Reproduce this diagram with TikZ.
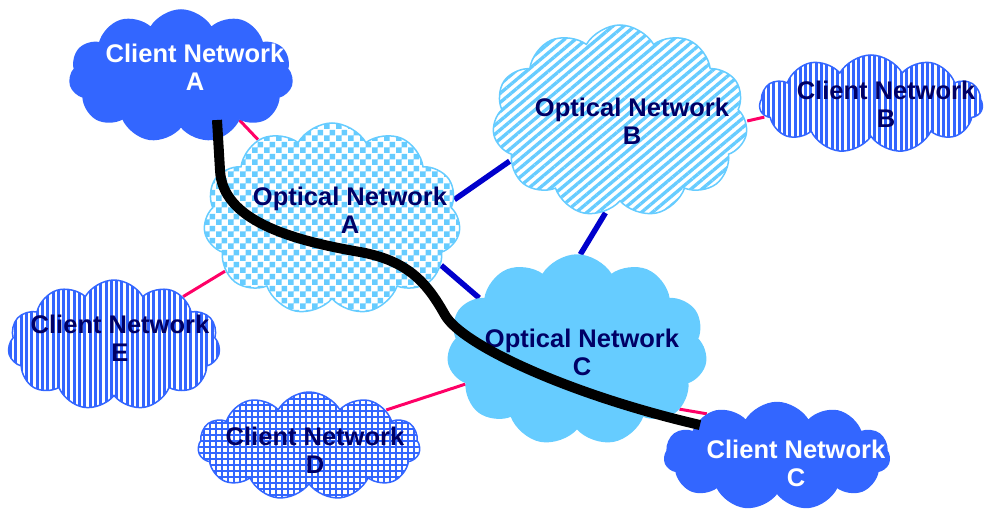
\documentclass[tikz,border=0pt]{standalone}
\usepackage{fontspec}
\setmainfont{Liberation Sans}
\usetikzlibrary{shapes.symbols,patterns,patterns.meta,calc}
\definecolor{cblue}{HTML}{3366FF}
\definecolor{lblue}{HTML}{66CCFF}
\definecolor{navy}{HTML}{000066}
\definecolor{linkpink}{HTML}{FF0066}
\definecolor{dblue}{HTML}{0000CC}
\pgfdeclarelayer{background}
\pgfsetlayers{background,main}
\pgfdeclarepatternformonly{bigcheck}{\pgfqpoint{0pt}{0pt}}{\pgfqpoint{12pt}{12pt}}{\pgfqpoint{12pt}{12pt}}{%
  \pgfpathrectangle{\pgfqpoint{0pt}{0pt}}{\pgfqpoint{6pt}{6pt}}%
  \pgfpathrectangle{\pgfqpoint{6pt}{6pt}}{\pgfqpoint{6pt}{6pt}}%
  \pgfusepath{fill}}
\begin{document}
\begin{tikzpicture}[x=1pt,y=-1pt,
  netcloud/.style={cloud, cloud puffs=11, cloud puff arc=120, cloud ignores aspect, inner sep=0pt, line width=1.5pt},
  solidclient/.style={netcloud, draw=cblue, fill=cblue},
  solidoptical/.style={netcloud, draw=lblue, fill=lblue},
  stripeclient/.style={netcloud, draw=cblue, preaction={fill=white}, pattern={Lines[angle=90,distance=5.3pt,line width=3pt]}, pattern color=cblue},
  gridclient/.style={netcloud, draw=cblue, preaction={fill=white}, pattern={Hatch[angle=0,distance=6pt,line width=1.8pt]}, pattern color=cblue},
  diagoptical/.style={netcloud, draw=lblue, preaction={fill=white}, pattern={Lines[angle=40,distance=7pt,line width=3.3pt]}, pattern color=lblue},
  checkoptical/.style={netcloud, draw=lblue, preaction={fill=white}, pattern=bigcheck, pattern color=lblue},
  lbl/.style={font=\bfseries\fontsize{25.5}{28}\selectfont, align=center, inner sep=0pt, text=navy},
  whitelbl/.style={lbl, text=white},
  clientlink/.style={draw=linkpink, line width=3pt},
  opticallink/.style={draw=dblue, line width=5.5pt},
  lightpath/.style={draw=black, line width=10pt, line cap=butt}
]
\useasboundingbox (0,0) rectangle (984,513);

% clouds
\node[solidclient, minimum width=223pt, minimum height=132pt] (cA) at (181,76) {};
\node[diagoptical, minimum width=255pt, minimum height=192pt] (oB) at (620,121) {};
\node[stripeclient, minimum width=223pt, minimum height=98pt] (cB) at (871,104) {};
\node[checkoptical, minimum width=257pt, minimum height=192pt] (oA) at (332,219) {};
\node[stripeclient, minimum width=212pt, minimum height=130pt] (cE) at (114,345) {};
\node[solidoptical, minimum width=259pt, minimum height=190pt] (oC) at (577,350) {};
\node[gridclient, minimum width=222pt, minimum height=108pt] (cD) at (309,446) {};
\node[solidclient, minimum width=225pt, minimum height=107pt] (cC) at (777,456) {};

% labels
\node[whitelbl] (cAt) at (195,67) {Client Network\\A};
\node[lbl] (oBt) at (632,121) {Optical Network\\B};
\node[lbl] (cBt) at (886,104) {Client Network\\B};
\node[lbl] (oAt) at (350,210) {Optical Network\\A};
\node[lbl] (cEt) at (120,338) {Client Network\\E};
\node[lbl] (oCt) at (582,352) {Optical Network\\C};
\node[lbl] (cDt) at (315,450) {Client Network\\D};
\node[whitelbl] (cCt) at (796,463) {Client Network\\C};

% links behind the clouds
\begin{pgfonlayer}{background}
\draw[clientlink] (cA.-37) -- (oA.133);
\draw[clientlink] (cB.187) -- (oB.0);
\draw[clientlink] (cE.35) -- (oA.206);
\draw[clientlink] (cD.25) -- (oC.197);
\draw[clientlink] (oC.-30) -- (cC.149);
\draw[opticallink] (oA.9) -- (oB.200);
\draw[opticallink] (oB.261) -- (oC.88);
\draw[opticallink] (oA.-23) -- (oC.152);
\end{pgfonlayer}

% light path on top
\coordinate (pathStart) at (217,120);
\coordinate (pathEnd) at (700,425);
\draw[lightpath] (pathStart) -- (220,170)
  .. controls (222,220) and (290,240) .. (360,252)
  .. controls (410,261) and (428,285) .. (445,315)
  .. controls (462,345) and (570,395) .. (pathEnd);
\end{tikzpicture}
\end{document}
